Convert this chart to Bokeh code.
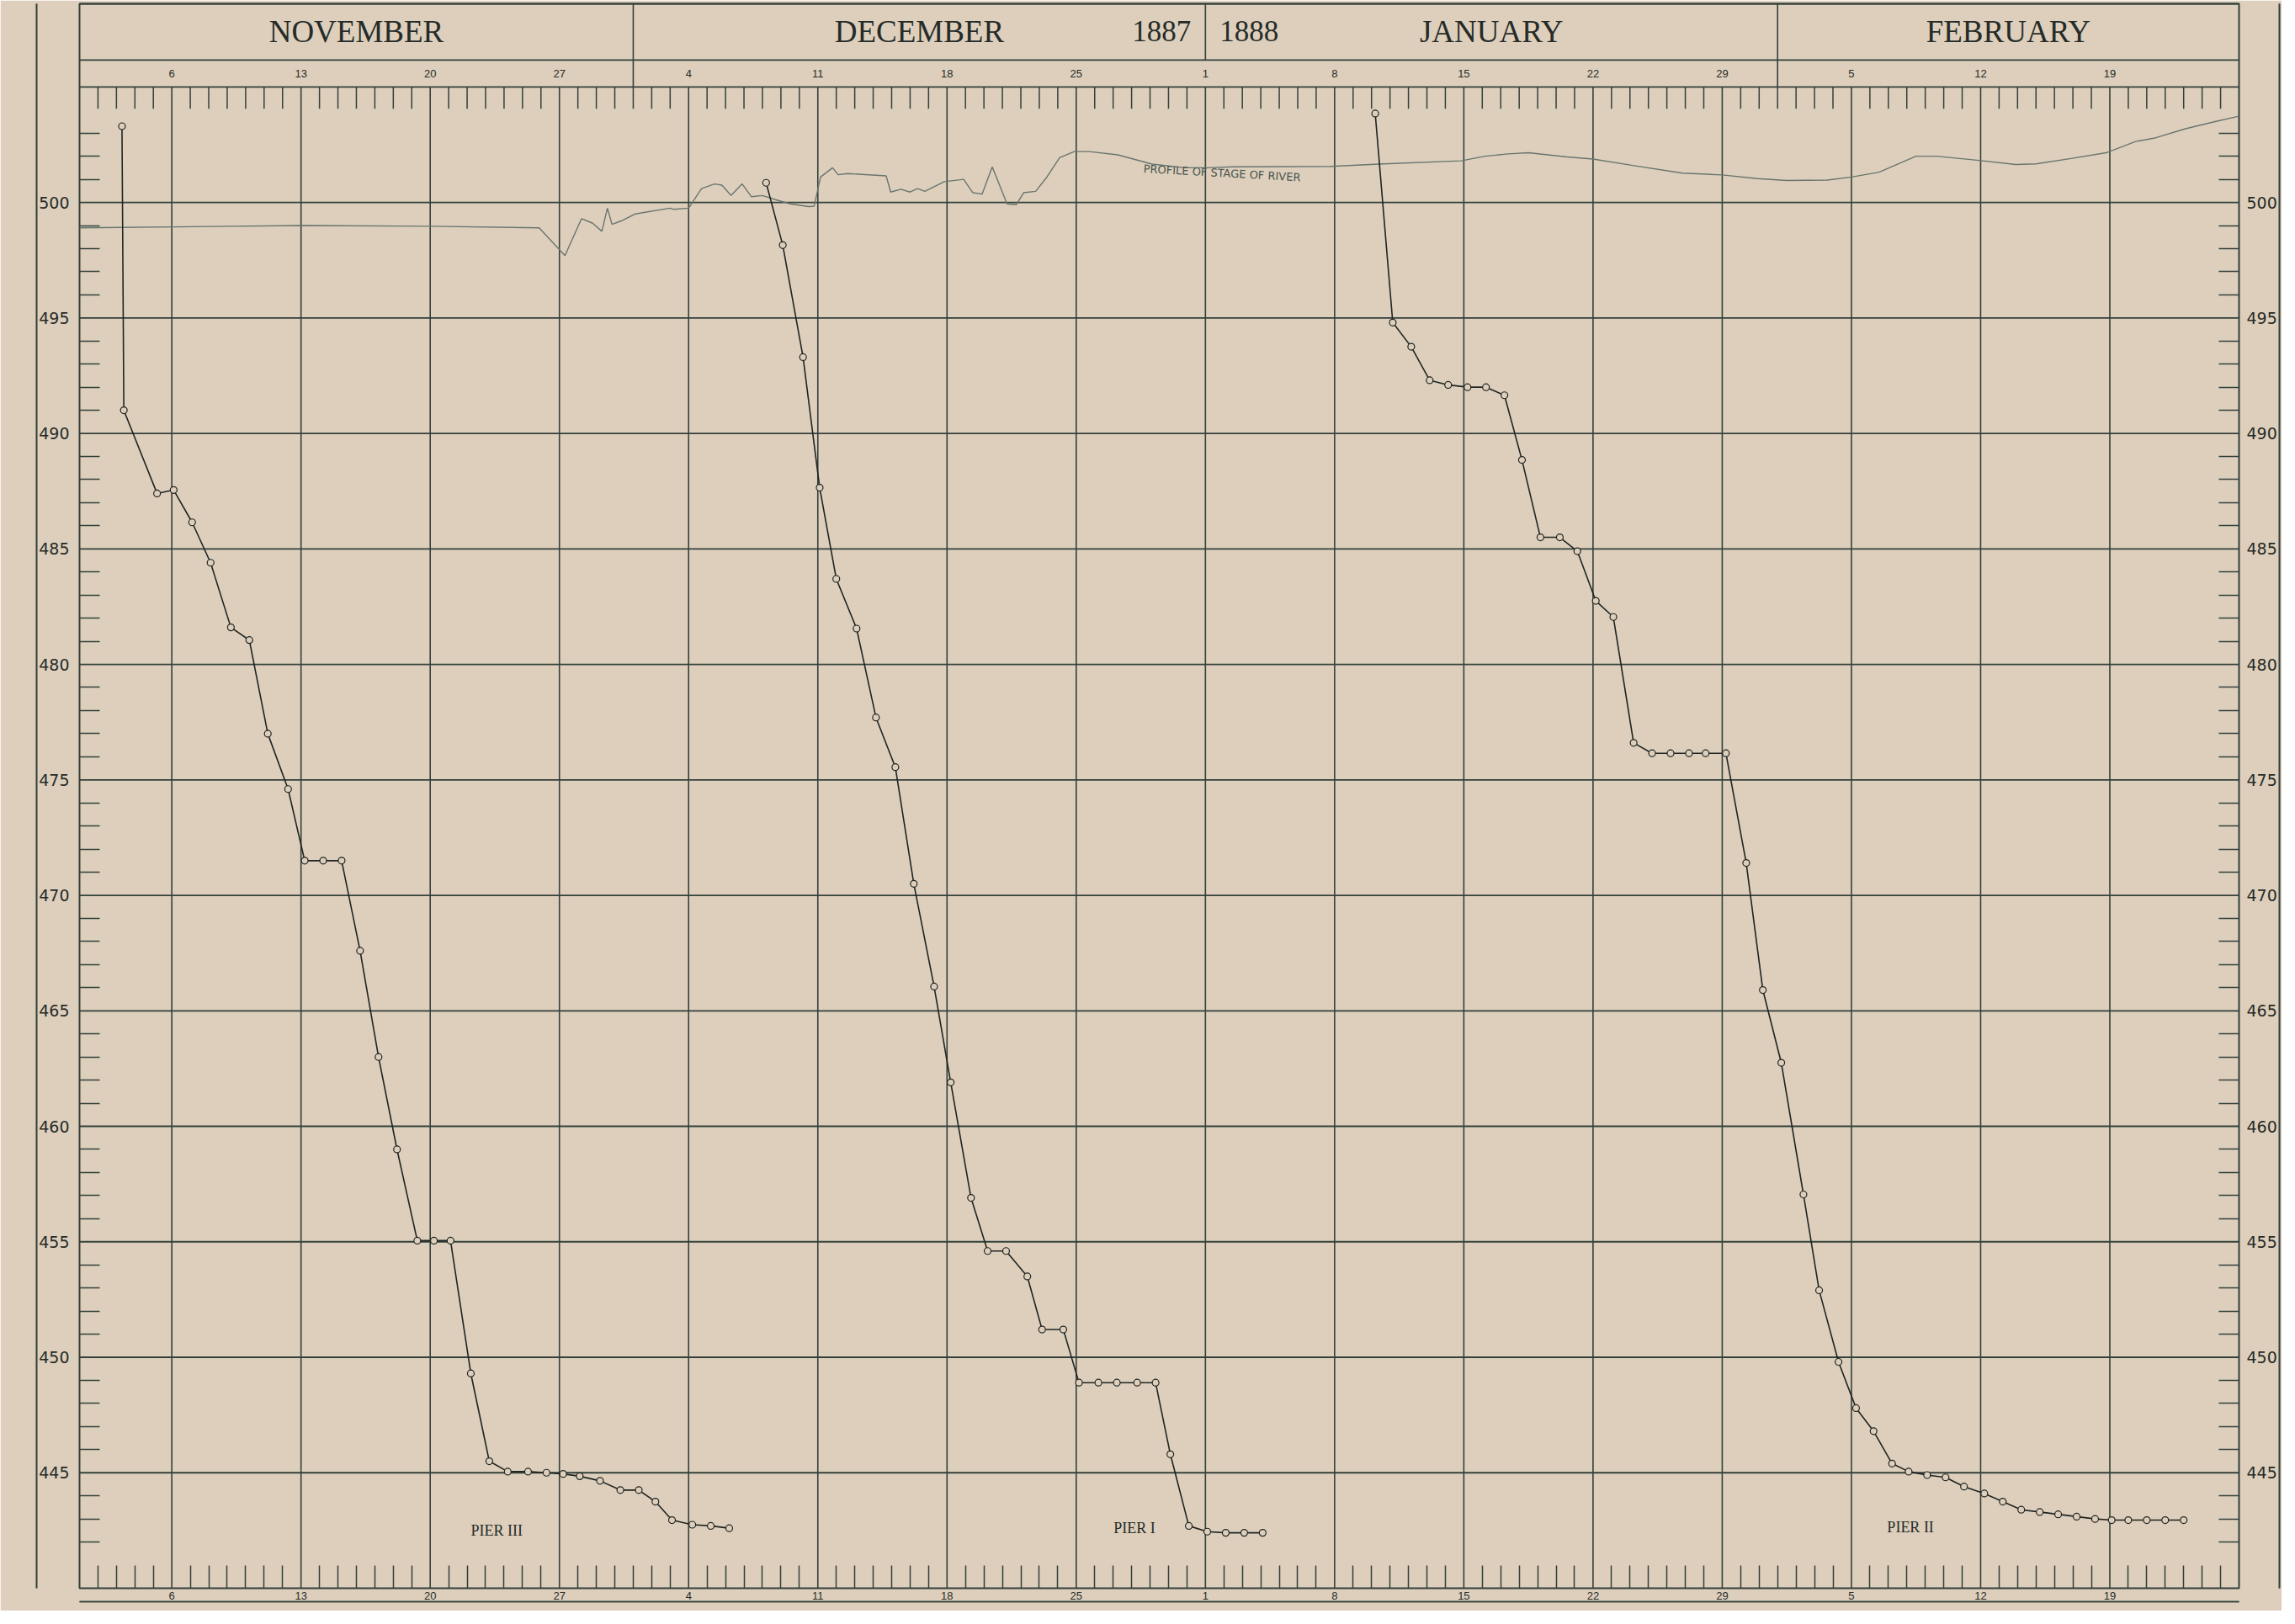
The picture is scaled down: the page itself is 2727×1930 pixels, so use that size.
from bokeh.plotting import figure
from bokeh.models import Range1d, LinearAxis, FixedTicker
from bokeh.core.properties import value
from bokeh.embed import file_html
from bokeh.resources import INLINE

# ---------------- data ----------------
# day index: 1 = 1 Nov 1887 ... 118 = 26 Feb 1888
month_names = ["NOVEMBER", "DECEMBER", "JANUARY", "FEBRUARY"]
month_bounds = [1, 31, 62, 93, 118]
year_labels = ["1887", "1888"]
week_days = [6, 13, 20, 27, 34, 41, 48, 55, 62, 69, 76, 83, 90, 97, 104, 111]
week_labels = ["6", "13", "20", "27", "4", "11", "18", "25", "1", "8", "15", "22", "29", "5", "12", "19"]
elev_major = [445, 450, 455, 460, 465, 470, 475, 480, 485, 490, 495, 500]

pier3_day = [3.3, 3.4, 5.2, 6.1, 7.1, 8.1, 9.2, 10.2, 11.2, 12.3, 13.2, 14.2, 15.2, 16.2, 17.2,
             18.2, 19.3, 20.2, 21.1, 22.2, 23.2, 24.2, 25.3, 26.3, 27.2, 28.1, 29.2, 30.3, 31.3,
             32.2, 33.1, 34.2, 35.2, 36.2]
pier3_elev = [503.3, 491.0, 487.4, 487.55, 486.15, 484.4, 481.6, 481.05, 477.0, 474.6, 471.5,
              471.5, 471.5, 467.6, 463.0, 459.0, 455.05, 455.05, 455.05, 449.3, 445.5, 445.05,
              445.05, 445.0, 444.95, 444.85, 444.65, 444.25, 444.25, 443.75, 442.95, 442.75,
              442.7, 442.6]

pier1_day = [38.2, 39.1, 40.2, 41.1, 42.0, 43.1, 44.15, 45.2, 46.2, 47.3, 48.2, 49.3, 50.2, 51.2,
             52.35, 53.15, 54.3, 55.15, 56.2, 57.2, 58.3, 59.3, 60.1, 61.1, 62.1, 63.1, 64.1, 65.1]
pier1_elev = [500.85, 498.15, 493.3, 487.65, 483.7, 481.55, 477.7, 475.55, 470.5, 466.05, 461.9,
              456.9, 454.6, 454.6, 453.5, 451.2, 451.2, 448.9, 448.9, 448.9, 448.9, 448.9, 445.8,
              442.7, 442.45, 442.4, 442.4, 442.4]

pier2_day = [71.2, 72.15, 73.15, 74.15, 75.15, 76.2, 77.2, 78.2, 79.15, 80.15, 81.2, 82.15, 83.15,
             84.1, 85.2, 86.2, 87.2, 88.2, 89.1, 90.2, 91.3, 92.2, 93.2, 94.4, 95.25, 96.3, 97.25,
             98.2, 99.2, 100.1, 101.1, 102.1, 103.1, 104.2, 105.2, 106.2, 107.2, 108.2, 109.2,
             110.2, 111.1, 112.0, 113.0, 114.0, 115.0]
pier2_elev = [503.85, 494.8, 493.75, 492.3, 492.1, 492.0, 492.0, 491.65, 488.85, 485.5, 485.5,
              484.9, 482.75, 482.05, 476.6, 476.15, 476.15, 476.15, 476.15, 476.15, 471.4, 465.9,
              462.75, 457.05, 452.9, 449.8, 447.8, 446.8, 445.4, 445.05, 444.9, 444.8, 444.4,
              444.1, 443.75, 443.4, 443.3, 443.2, 443.1, 443.0, 442.95, 442.95, 442.95, 442.95,
              442.95]

river_day = [1.0, 13.1, 20.0, 25.9, 27.3, 28.2, 28.8, 29.3, 29.6, 29.85, 30.35, 31.1, 33.0, 33.2,
             34.0, 34.7, 35.4, 35.8, 36.3, 36.9, 37.4, 38.0, 38.7, 39.5, 40.5, 40.8, 41.15, 41.8,
             42.1, 42.6, 44.7, 44.95, 45.5, 46.0, 46.4, 46.8, 47.85, 48.9, 49.4, 49.9, 50.45,
             51.25, 51.75, 52.15, 52.8, 53.35, 54.1, 54.9, 55.7, 57.25, 59.1, 60.9, 62.1, 63.5,
             68.8, 71.4, 75.85, 77.15, 78.4, 79.5, 81.6, 83.0, 85.15, 87.85, 90.0, 91.9, 93.5,
             95.7, 97.0, 98.5, 100.5, 101.6, 103.8, 105.9, 107.0, 108.9, 110.8, 112.4, 113.5,
             115.1, 116.7, 118.0]
river_elev = [498.9, 499.0, 498.97, 498.9, 497.7, 499.3, 499.1, 498.75, 499.75, 499.05, 499.2,
              499.5, 499.75, 499.7, 499.75, 500.6, 500.8, 500.75, 500.3, 500.8, 500.25, 500.3,
              500.12, 499.94, 499.82, 499.84, 501.1, 501.5, 501.2, 501.25, 501.15, 500.45,
              500.57, 500.45, 500.6, 500.48, 500.9, 501.0, 500.42, 500.36, 501.54, 499.94,
              499.9, 500.42, 500.48, 501.03, 501.94, 502.2, 502.2, 502.06, 501.66, 501.5, 501.5,
              501.54, 501.56, 501.66, 501.8, 502.0, 502.1, 502.15, 501.97, 501.88, 501.6,
              501.27, 501.19, 501.03, 500.95, 500.97, 501.1, 501.31, 502.0, 502.0, 501.83,
              501.64, 501.67, 501.9, 502.15, 502.64, 502.8, 503.19, 503.5, 503.73]

pier_names = ["PIER III", "PIER I", "PIER II"]
pier_label_day = [23.6, 58.15, 100.2]
pier_label_elev = [442.5, 442.6, 442.65]
river_label = "PROFILE OF STAGE OF RIVER"

# ---------------- layout / style ----------------
PAPER = "#ddcfbc"
GRID = "#33403a"
INK = "#1f2422"
RIVER = "#6a756f"
TEXT = "#262b28"

X0, X1 = month_bounds[0], month_bounds[-1]
Y0, YPLOT, YTOP = 440, 505, 508.6
FW, FH = 2566, 1883
PX_Y = FH / (YTOP - Y0)


def dy(px):
    return px / PX_Y


p = figure(frame_width=FW, frame_height=FH,
           x_range=Range1d(X0, X1), y_range=Range1d(Y0, YTOP),
           x_axis_location=None, y_axis_location=None,
           output_backend="svg", toolbar_location=None,
           min_border_left=94, min_border_right=51, min_border_top=4, min_border_bottom=27)
p.background_fill_color = PAPER
p.border_fill_color = PAPER
p.outline_line_color = GRID
p.outline_line_width = 2
p.xgrid.visible = False
p.ygrid.visible = False


def rule(width, line=True):
    """an axis without ticks or labels: draws only its line (sheet border) and takes
    `width` pixels of room through an invisible tick extent"""
    return LinearAxis(ticker=FixedTicker(ticks=[]),
                      axis_line_color=GRID if line else None, axis_line_width=1.6,
                      major_tick_in=0, major_tick_out=width, major_tick_line_color=None,
                      minor_tick_in=0, minor_tick_out=0, minor_tick_line_color=None,
                      major_label_standoff=0)


# axes (left / right elevation, bottom days)
elev_minor = [v for v in range(442, 504) if v % 5 != 0]
yticker = FixedTicker(ticks=elev_major, minor_ticks=elev_minor)
for side, stand, spacer in (("left", 12, 27), ("right", 9, 0)):
    ax = LinearAxis(ticker=yticker, axis_line_color=None,
                    major_tick_in=0, major_tick_out=0,
                    minor_tick_in=24, minor_tick_out=0,
                    minor_tick_line_color=GRID, minor_tick_line_width=1.5,
                    major_label_standoff=stand,
                    major_label_text_font="DejaVu Sans",
                    major_label_text_font_size="19px",
                    major_label_text_color=TEXT)
    p.add_layout(ax, side)
    if spacer:
        p.add_layout(rule(spacer, line=False), side)
    p.add_layout(rule(4), side)
    p.add_layout(rule(0), side)

daily = [d for d in range(X0 + 1, X1) if d not in week_days]
xticker = FixedTicker(ticks=week_days, minor_ticks=daily)
xax = LinearAxis(ticker=xticker, axis_line_color=None,
                 major_tick_in=0, major_tick_out=0,
                 minor_tick_in=27, minor_tick_out=0,
                 minor_tick_line_color=GRID, minor_tick_line_width=1.5,
                 major_label_overrides={d: l for d, l in zip(week_days, week_labels)},
                 major_label_standoff=4,
                 major_label_text_font="Liberation Sans",
                 major_label_text_font_size="13px",
                 major_label_text_color=TEXT)
p.add_layout(xax, "below")
p.add_layout(rule(4), "below")
p.add_layout(rule(0), "below")
p.add_layout(rule(3), "above")
p.add_layout(rule(0), "above")

# grid lines
p.segment(x0=week_days, y0=Y0, x1=week_days, y1=YPLOT, line_color=GRID, line_width=1.6)
hlines = elev_major + [YPLOT]
p.segment(x0=X0, y0=hlines, x1=X1, y1=hlines, line_color=GRID, line_width=1.8)
# top daily ticks
p.segment(x0=daily, y0=YPLOT, x1=daily, y1=YPLOT - dy(26), line_color=GRID, line_width=1.5)

# header
y_div = YPLOT + dy(32)
y_month = YPLOT + dy(66)
y_date = YPLOT + dy(16)
p.segment(x0=X0, y0=y_div, x1=X1, y1=y_div, line_color=GRID, line_width=1.8)
inner_b = month_bounds[1:-1]
p.segment(x0=inner_b, y0=[y_div if b in week_days else YPLOT for b in inner_b],
          x1=inner_b, y1=YTOP, line_color=GRID, line_width=1.6)
centers = [(a + b) / 2 for a, b in zip(month_bounds[:-1], month_bounds[1:])]
p.text(x=centers, y=y_month, text=month_names, text_align="center", text_baseline="middle",
       text_font=value("Liberation Serif"), text_font_size="37px", text_color=TEXT)
yb = month_bounds[2]
p.text(x=[yb, yb], y=y_month, text=year_labels, text_align=["right", "left"],
       x_offset=[-17, 17], text_baseline="middle",
       text_font=value("Liberation Serif"), text_font_size="35px", text_color=TEXT)
p.text(x=week_days, y=y_date, text=week_labels, text_align="center", text_baseline="middle",
       text_font=value("Liberation Sans"), text_font_size="13px", text_color=TEXT)

# river profile
p.line(river_day, river_elev, line_color=RIVER, line_width=1.4)
p.text(x=[62.9], y=[501.27], text=[river_label], angle=-0.056, text_align="center",
       text_baseline="middle", text_font=value("DejaVu Sans"), text_font_size="13px",
       text_color="#4a5550")

# piers
for d, e in ((pier3_day, pier3_elev), (pier1_day, pier1_elev), (pier2_day, pier2_elev)):
    p.line(d, e, line_color=INK, line_width=1.6)
    p.scatter(d, e, marker="circle", size=8, fill_color=PAPER, line_color=INK, line_width=1.2)
p.text(x=pier_label_day, y=pier_label_elev, text=pier_names, text_align="center",
       text_baseline="middle", text_font=value("Liberation Serif"), text_font_size="18px",
       text_color=TEXT)

open("out.html", "w").write(file_html(p, INLINE))
